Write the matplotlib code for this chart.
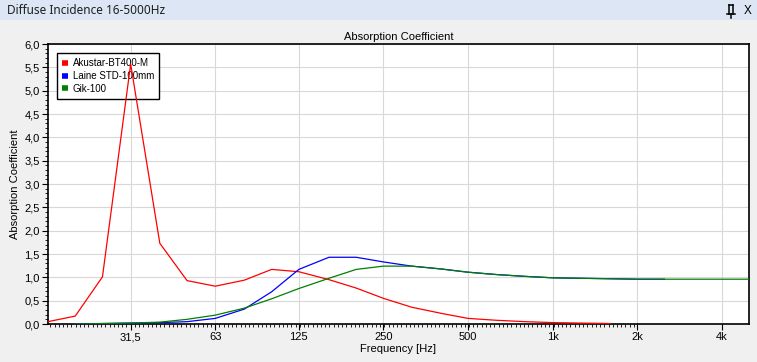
import numpy as np
import matplotlib.pyplot as plt
from matplotlib.ticker import FixedLocator, FixedFormatter, MultipleLocator, FuncFormatter
from matplotlib.patches import Rectangle
from matplotlib.lines import Line2D

plt.rcParams['font.family'] = ['Liberation Sans', 'DejaVu Sans']

# third-octave bands
f_red = [16, 20, 25, 31.5, 40, 50, 63, 80, 100, 125, 160, 200, 250, 315, 400,
         500, 630, 800, 1000, 1250, 1600]
akustar = [0.05, 0.17, 1.01, 5.57, 1.73, 0.93, 0.81, 0.94, 1.17, 1.12, 0.95,
           0.77, 0.55, 0.36, 0.23, 0.12, 0.08, 0.05, 0.03, 0.02, 0.01]

f_blue = [20, 25, 31.5, 40, 50, 63, 80, 100, 125, 160, 200, 250, 315, 400,
          500, 630, 800, 1000, 1250, 1600, 2000, 2500]
laine = [0.0, 0.01, 0.02, 0.03, 0.05, 0.12, 0.32, 0.69, 1.17, 1.43, 1.43,
         1.33, 1.24, 1.18, 1.11, 1.06, 1.02, 0.99, 0.98, 0.97, 0.96, 0.96]

f_green = [20, 25, 31.5, 40, 50, 63, 80, 100, 125, 160, 200, 250, 315, 400,
           500, 630, 800, 1000, 1250, 1600, 2000, 2500, 3150, 4000, 5000]
gik = [0.0, 0.01, 0.02, 0.04, 0.10, 0.19, 0.34, 0.54, 0.76, 0.98, 1.17, 1.24,
       1.24, 1.18, 1.11, 1.06, 1.02, 0.99, 0.98, 0.97, 0.96, 0.96, 0.96, 0.96, 0.96]

xticks = [31.5, 63, 125, 250, 500, 1000, 2000, 4000]
xlabels = ['31,5', '63', '125', '250', '500', '1k', '2k', '4k']

fig = plt.figure(figsize=(7.57, 3.62), dpi=100, facecolor='#f0f0f0')
W, H = 757, 362

# window title bar
fig.patches.append(Rectangle((0, 1 - 20 / H), 1, 20 / H, transform=fig.transFigure,
                             facecolor='#dce6f4', edgecolor='none', zorder=0))
fig.text(7 / W, 1 - 10 / H, 'Diffuse Incidence 16-5000Hz', fontsize=8.5,
         family=['Noto Sans', 'DejaVu Sans'], va='center', ha='left', color='#1e1e1e')
fig.text(748 / W, 1 - 11 / H, 'X', fontsize=8.5, va='center', ha='center', color='black')
# pin icon
for xs, ys in [([727, 735], [14, 14]), ([731, 731], [14, 18]),
               ([729, 729], [5, 14]), ([733, 733], [5, 14]), ([729, 733], [5, 5])]:
    fig.lines.append(Line2D([x / W for x in xs], [1 - y / H for y in ys],
                            transform=fig.transFigure, color='black', lw=1.1))

ax = fig.add_axes([48 / W, 38 / H, 701 / W, 280 / H])
ax.set_facecolor('white')
ax.plot(f_red, akustar, color='#ff0000', lw=0.9, label='Akustar-BT400-M', zorder=3)
ax.plot(f_blue, laine, color='#0000ff', lw=0.9, label='Laine STD-100mm', zorder=3)
ax.plot(f_green, gik, color='#008000', lw=0.9, label='Gik-100', zorder=3)

ax.set_xscale('log')
ax.set_xlim(16, 5000)
ax.set_ylim(0, 6.0)
ax.xaxis.set_major_locator(FixedLocator(xticks))
ax.xaxis.set_major_formatter(FixedFormatter(xlabels))
minor = [31.5 * 2 ** (k / 20) for k in range(-20, 120)]
ax.xaxis.set_minor_locator(FixedLocator(minor))
ax.xaxis.set_minor_formatter(FixedFormatter([]))
ax.yaxis.set_major_locator(MultipleLocator(0.5))
ax.yaxis.set_minor_locator(MultipleLocator(0.1))
ax.yaxis.set_major_formatter(FuncFormatter(lambda v, p: ('%.1f' % v).replace('.', ',')))
ax.tick_params(which='major', length=4, width=0.8, labelsize=8, pad=2, color='black')
ax.tick_params(which='minor', length=2, width=0.6, color='black')
ax.grid(True, which='major', color='#d8d8d8', lw=0.8)
for s in ax.spines.values():
    s.set_linewidth(1.2)
    s.set_color('black')

ax.set_title('Absorption Coefficient', fontsize=8, pad=3)
ax.set_xlabel('Frequency [Hz]', fontsize=8, labelpad=1)
ax.set_ylabel('Absorption Coefficient', fontsize=8, labelpad=3)

leg = ax.legend(loc='upper left', bbox_to_anchor=(9 / 701, 1 - 9 / 280), fontsize=7,
                fancybox=False, framealpha=1, edgecolor='black', handlelength=0.6,
                handleheight=0.6, handletextpad=0.5, borderpad=0.5, labelspacing=0.3,
                borderaxespad=0)
leg.set_zorder(2)
leg.get_frame().set_linewidth(1.0)
for h in leg.legend_handles:
    h.set_linewidth(4)
    h.set_solid_capstyle('butt')

fig.savefig('out.png', dpi=100, facecolor=fig.get_facecolor())
